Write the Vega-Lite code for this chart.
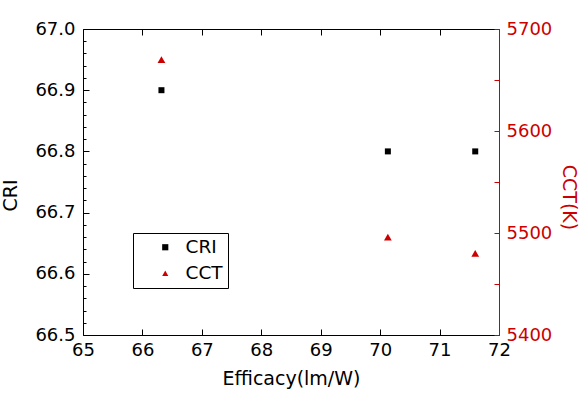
{
  "$schema": "https://vega.github.io/schema/vega-lite/v6.json",
  "width": 416,
  "height": 306,
  "autosize": {"type": "none"},
  "padding": {"left": 83, "top": 29, "right": 89, "bottom": 64},
  "background": "white",
  "config": {
    "view": {"stroke": null},
    "font": "DejaVu Sans",
    "axis": {"grid": false, "labelFont": "DejaVu Sans", "titleFont": "DejaVu Sans", "titleFontWeight": "normal", "domainColor": "black", "tickColor": "black", "labelColor": "black", "titleColor": "black"}
  },
  "data": {
    "values": [
      {"eff": 66.32, "value": 66.9, "series": "CRI"},
      {"eff": 70.13, "value": 66.8, "series": "CRI"},
      {"eff": 71.6, "value": 66.8, "series": "CRI"},
      {"eff": 66.32, "value": 5670, "series": "CCT"},
      {"eff": 70.13, "value": 5496, "series": "CCT"},
      {"eff": 71.6, "value": 5480, "series": "CCT"}
    ]
  },
  "layer": [
    {
      "transform": [{"filter": "datum.series == 'CRI'"}],
      "mark": {"type": "point", "filled": true, "size": 36, "opacity": 1},
      "encoding": {
        "x": {"field": "eff", "type": "quantitative", "scale": {"domain": [65, 72], "nice": false, "zero": false},
          "axis": {"orient": "bottom", "values": [65, 66, 67, 68, 69, 70, 71, 72], "format": "d", "tickSize": -6, "labelPadding": 12, "labelFontSize": 18, "title": "Efficacy(lm/W)", "titleFontSize": 19, "titlePadding": 10, "labelFlush": false, "labelOverlap": false}},
        "y": {"field": "value", "type": "quantitative", "scale": {"domain": [66.5, 67.0], "nice": false, "zero": false},
          "axis": {"orient": "left", "values": [66.5, 66.6, 66.7, 66.8, 66.9, 67.0], "format": ".1f", "tickSize": -6, "labelPadding": 14, "labelFontSize": 18, "title": "CRI", "titleFontSize": 19, "titlePadding": 14, "titleY": 166, "labelFlush": false, "labelOverlap": false}},
        "color": {"field": "series", "type": "nominal", "scale": {"domain": ["CRI", "CCT"], "range": ["black", "#cc0000"]},
          "legend": {"orient": "none", "legendX": 50, "legendY": 204, "title": null, "strokeColor": "black", "padding": 5, "rowPadding": 7, "labelFontSize": 18.5, "labelFont": "DejaVu Sans", "symbolOffset": 18, "labelOffset": 11, "symbolSize": 38, "labelExpr": "datum.label + '\u00a0'"}},
        "shape": {"field": "series", "type": "nominal", "scale": {"domain": ["CRI", "CCT"], "range": ["square", "triangle-up"]},
          "legend": {"orient": "none", "legendX": 50, "legendY": 204, "title": null, "strokeColor": "black", "padding": 5, "rowPadding": 7, "labelFontSize": 18.5, "labelFont": "DejaVu Sans", "symbolOffset": 18, "labelOffset": 11, "symbolSize": 38, "labelExpr": "datum.label + '\u00a0'"}}
      }
    },
    {
      "transform": [{"filter": "datum.series == 'CCT'"}],
      "mark": {"type": "point", "filled": true, "size": 60, "opacity": 1},
      "encoding": {
        "x": {"field": "eff", "type": "quantitative", "scale": {"domain": [65, 72], "nice": false, "zero": false},
          "axis": {"orient": "top", "values": [65, 66, 67, 68, 69, 70, 71, 72], "tickSize": -6, "labels": false, "title": null}},
        "y": {"field": "value", "type": "quantitative", "scale": {"domain": [5400, 5700], "nice": false, "zero": false},
          "axis": {"orient": "right", "values": [5400, 5450, 5500, 5550, 5600, 5650, 5700], "labelExpr": "datum.value % 100 == 0 ? datum.label : ''", "format": "d", "tickSize": -5, "labelPadding": 12, "labelFontSize": 18, "labelColor": "#cc0000", "domainColor": "#cc0000", "tickColor": "#cc0000", "title": "CCT(K)", "titleColor": "#cc0000", "titleAngle": 90, "titleFontSize": 19, "titlePadding": 7, "titleY": 168, "labelFlush": false, "labelOverlap": false}},
        "color": {"field": "series", "type": "nominal"},
        "shape": {"field": "series", "type": "nominal"}
      }
    },
    {
      "transform": [{"filter": "datum.series == 'CRI'"}],
      "mark": {"type": "point", "opacity": 0},
      "encoding": {
        "x": {"field": "eff", "type": "quantitative", "scale": {"domain": [65, 72], "nice": false, "zero": false}, "axis": null},
        "y": {"field": "value", "type": "quantitative", "scale": {"domain": [66.5, 67.0], "nice": false, "zero": false},
          "axis": {"orient": "left", "values": [66.52, 66.54, 66.56, 66.58, 66.62, 66.64, 66.66, 66.68, 66.72, 66.74, 66.76, 66.78, 66.82, 66.84, 66.86, 66.88, 66.92, 66.94, 66.96, 66.98], "tickSize": -3, "labels": false, "domain": false, "title": null}}
      }
    }
  ],
  "resolve": {"scale": {"y": "independent"}, "axis": {"x": "independent", "y": "independent"}}
}
